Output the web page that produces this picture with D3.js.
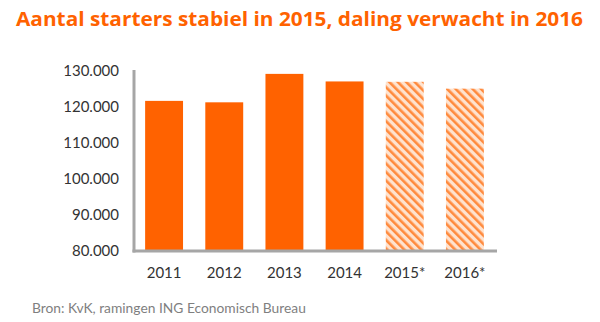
<!DOCTYPE html>
<html><head><meta charset="utf-8">
<script src="https://cdn.jsdelivr.net/npm/d3@7"></script>
<style>body{margin:0;background:#fff}svg{display:block}</style>
</head><body><svg id="c" width="600" height="322"></svg>
<script>
const categories = ["2011","2012","2013","2014","2015*","2016*"];
const values = [121700, 121300, 129200, 127100, 127000, 125100];
const forecast = [false,false,false,false,true,true];
const yTicks = [80000, 90000, 100000, 110000, 120000, 130000];

const svg = d3.select("#c");
const orange = "#FF6200";
const x = d3.scaleBand().domain(categories).range([134, 495]).paddingInner(0.37).paddingOuter(0.185);
const y = d3.scaleLinear().domain([80000, 130000]).range([251, 71]);

const defs = svg.append("defs");
const pat = defs.append("pattern").attr("id","hatch").attr("patternUnits","userSpaceOnUse")
  .attr("width",6).attr("height",6).attr("patternTransform","rotate(-45)");
pat.append("rect").attr("width",6).attr("height",6).attr("fill","#FFE3CF");
pat.append("rect").attr("x",0).attr("width",2.6).attr("height",6).attr("fill","#FF8A3D");

svg.append("text").attr("x",16).attr("y",26).attr("fill",orange)
  .attr("font-family","Open Sans").attr("font-weight","bold").attr("font-size",20)
  .attr("textLength",567).attr("lengthAdjust","spacingAndGlyphs")
  .text("Aantal starters stabiel in 2015, daling verwacht in 2016");

svg.selectAll("rect.bar").data(categories).enter().append("rect").attr("class","bar")
  .attr("x",d=>x(d)).attr("width",x.bandwidth())
  .attr("y",(d,i)=>y(values[i])).attr("height",(d,i)=>y(80000)-y(values[i]))
  .attr("fill",(d,i)=>forecast[i]?"url(#hatch)":orange);

const fmt = v => d3.format(",")(v).replace(/,/g,".");
const yAxis = d3.axisLeft(y).tickValues(yTicks).tickSize(0).tickPadding(15).tickFormat(fmt);
const gy = svg.append("g").attr("transform","translate(134,0)").call(yAxis);
gy.select(".domain").remove();
gy.selectAll("text").attr("font-family","Lato").attr("font-size",15).attr("fill","#333");

const xAxis = d3.axisBottom(x).tickSize(0).tickPadding(16);
const gx = svg.append("g").attr("transform","translate(0,251)").call(xAxis);
gx.select(".domain").remove();
gx.selectAll("text").attr("font-family","Lato").attr("font-size",15).attr("fill","#333");

svg.append("line").attr("x1",134).attr("x2",134).attr("y1",y(130000)-1).attr("y2",252.5)
  .attr("stroke","#a6a6a6").attr("stroke-width",3);
svg.append("line").attr("x1",132.5).attr("x2",497).attr("y1",251).attr("y2",251)
  .attr("stroke","#a6a6a6").attr("stroke-width",3);

svg.append("text").attr("x",32).attr("y",313).attr("fill","#7f7f7f")
  .attr("font-family","Lato").attr("font-size",13.8)
  .text("Bron: KvK, ramingen ING Economisch Bureau");
</script></body></html>
